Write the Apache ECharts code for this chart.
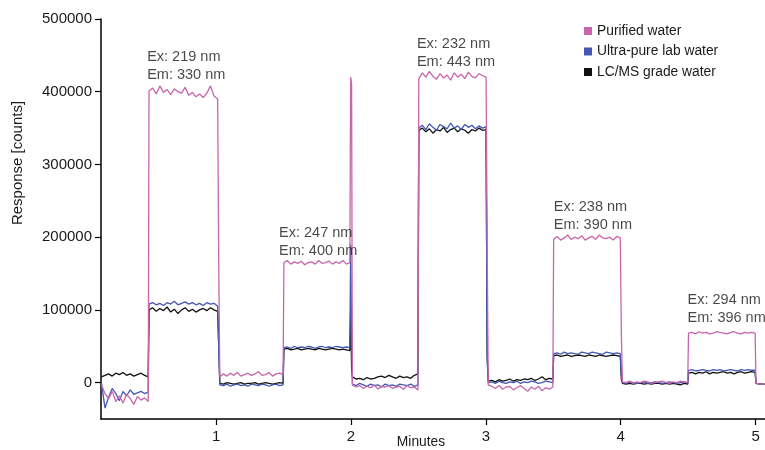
<!DOCTYPE html>
<html>
<head>
<meta charset="utf-8">
<script src="https://cdn.jsdelivr.net/npm/echarts@6/dist/echarts.min.js"></script>
<style>
  html, body { margin: 0; padding: 0; background: #fff; }
  #chart { width: 765px; height: 450px; }
</style>
</head>
<body>
<div id="chart"></div>
<script>
// time segments [start, end, points] (minutes)
var segments = [
    [0.147, 0.50, 14], [0.50, 1.015, 20], [1.015, 1.025, 1], [1.025, 1.50, 19],
    [1.50, 1.995, 20], [1.995, 2.008, 2], [2.008, 2.50, 19], [2.50, 3.005, 20],
    [3.005, 3.015, 1], [3.015, 3.50, 19], [3.50, 4.00, 20], [4.00, 4.01, 1],
    [4.01, 4.50, 19], [4.50, 5.00, 20], [5.00, 5.07, 3]
];

// responses in thousands of counts
var purifiedK = [
    -3, -15, -22, -12, -26, -18, -28, -16, -22, -30, -19, -24, -21, -26,
    401, 405, 397, 408, 399, 403, 396, 404, 400, 398, 406, 395, 399, 393, 397, 392, 398, 408, 394, 390,
    160,
    8, 12, 9, 13, 10, 14, 9, 11, 13, 10, 12, 15, 10, 11, 14, 9, 12, 13, 11,
    165, 168, 163, 166, 164, 167, 162, 165, 166, 163, 168, 164, 165, 167, 163, 166, 164, 168, 163, 165,
    420, 410,
    -3, -6, -4, -8, -5, -7, -3, -9, -5, -6, -4, -8, -6, -5, -9, -4, -7, -6, -10,
    418, 426, 420, 428, 421, 417, 425, 419, 423, 416, 426, 420, 424, 418, 427, 421, 419, 425, 422, 420,
    195,
    -3, -5, -8, -4, -9, -6, -5, -10, -7, -4, -8, -12, -6, -9, -5, -11, -7, -9, -6,
    197, 201, 196, 199, 203, 197, 200, 198, 202, 196, 199, 201, 197, 203, 199, 198, 200, 196, 201, 199,
    67,
    1, 0, 2, -1, 1, 0, 2, 1, -1, 0, 1, 2, 0, -1, 1, 0, 2, 1, 0,
    68, 69, 67, 70, 68, 69, 67, 68, 70, 69, 68, 67, 69, 70, 68, 67, 69, 68, 69, 68,
    -1, -2, -2
];
var ultraPureK = [
    0, -35, -20, -8, -15, -25, -12, -18, -10, -16, -14, -12, -15, -13,
    108, 110, 107, 109, 106, 110, 108, 112, 107, 109, 111, 108, 110, 107, 109, 106, 110, 108, 109, 105,
    45,
    -3, -4, -2, -5, -3, -2, -4, -3, -5, -2, -3, -4, -2, -3, -5, -3, -2, -4, -3,
    48, 49, 47, 50, 48, 49, 48, 50, 49, 47, 49, 50, 48, 49, 48, 50, 49, 48, 49, 48,
    190, 60,
    -2, -4, -1, -3, -5, -2, -4, -3, -6, -2, -4, -3, -5, -2, -3, -4, -2, -5, -3,
    350, 354, 348, 356, 351, 347, 355, 352, 349, 357, 350, 353, 348, 355, 351, 354, 349, 353, 350, 352,
    30,
    0, 1, -1, 2, 0, -1, 1, 0, 2, -1, 1, 0, 2, 1, -1, 0, 2, 1, 0,
    40, 41, 39, 42, 40, 41, 40, 39, 42, 41, 40, 42, 41, 40, 39, 42, 41, 40, 41, 40,
    10,
    0, -1, 1, 0, -1, 0, 1, -1, 0, 1, 0, -1, 0, 1, 0, -1, 0, 1, 0,
    17, 18, 16, 17, 18, 17, 16, 18, 17, 18, 16, 17, 18, 17, 16, 18, 17, 18, 17, 17,
    -1, -2, -2
];
var lcmsK = [
    8, 10, 12, 9, 13, 11, 14, 10, 12, 9, 11, 13, 10, 8,
    100, 103, 98, 102, 99, 104, 97, 101, 95, 100, 103, 98, 101, 97, 100, 102, 99, 103, 100, 98,
    50,
    -1, -2, 0, -1, -2, -1, 0, -2, -1, -1, 0, -2, -1, 0, -1, -2, -1, 0, -1,
    46, 47, 45, 46, 47, 45, 46, 47, 46, 45, 47, 46, 45, 46, 47, 46, 45, 46, 45, 44,
    100, 20,
    8, 5, 6, 4, 7, 5, 6, 8, 9, 7, 10, 8, 6, 9, 7, 8, 6, 10, 12,
    347, 350, 345, 349, 343, 348, 346, 351, 344, 348, 350, 345, 349, 347, 343, 348, 346, 350, 347, 348,
    40,
    2, 3, 1, 4, 2, 3, 5, 2, 4, 3, 5, 4, 6, 3, 5, 8, 4, 6, 5,
    37, 38, 36, 37, 38, 36, 37, 38, 37, 36, 38, 37, 36, 38, 37, 36, 37, 38, 37, 36,
    5,
    -1, -2, -1, -2, -1, -1, -2, -1, -2, -1, -1, -2, -1, -2, -1, -2, -3, -1, -2,
    13, 14, 12, 14, 13, 15, 12, 14, 13, 14, 15, 13, 14, 12, 14, 15, 13, 14, 15, 14,
    -1, -2, -2
];

var seriesNames = ["Purified water", "Ultra-pure lab water", "LC/MS grade water"];
var yTicks = [0, 100000, 200000, 300000, 400000, 500000];
var xTicks = [1, 2, 3, 4, 5];

// annotation: [minutes, response at text bottom, text]
var annotations = [
    [0.489, 410000, "Ex: 219 nm\nEm: 330 nm"],
    [1.467, 168000, "Ex: 247 nm\nEm: 400 nm"],
    [2.489, 428000, "Ex: 232 nm\nEm: 443 nm"],
    [3.504, 205000, "Ex: 238 nm\nEm: 390 nm"],
    [4.496, 77000, "Ex: 294 nm\nEm: 396 nm"]
];

function buildSeries(valsK) {
    var out = [], k = 0;
    segments.forEach(function (s) {
        var a = s[0], b = s[1], n = s[2];
        for (var i = 0; i < n; i++) {
            var t = n === 1 ? (a + b) / 2 : a + 0.003 + (b - a - 0.006) * i / (n - 1);
            out.push([t, valsK[k++] * 1000]);
        }
    });
    return out;
}

var font = "'Liberation Sans', Arial, sans-serif";
var textColor = "#1a1a1a";
var colors = ["#c965ac", "#4656b4", "#111111"];

function lineSeries(idx, vals, z) {
    return {
        name: seriesNames[idx],
        type: "line",
        data: buildSeries(vals),
        showSymbol: false,
        symbol: "none",
        z: z,
        lineStyle: { width: 1.3, color: colors[idx] },
        itemStyle: { color: colors[idx] }
    };
}

var myChart = echarts.init(document.getElementById("chart"));
var option = {
    animation: false,
    textStyle: { fontFamily: font },
    grid: { left: 101, right: 0, top: 19, bottom: 31, outerBoundsMode: "none", containLabel: false },
    legend: {
        data: seriesNames,
        orient: "vertical",
        left: 579,
        top: 19,
        icon: "rect",
        itemWidth: 8,
        itemHeight: 8,
        itemGap: 6.5,
        textStyle: { fontFamily: font, fontSize: 13.8, color: textColor }
    },
    xAxis: {
        type: "value",
        min: 0.147,
        max: 5.07,
        name: "Minutes",
        nameLocation: "middle",
        nameGap: 16,
        nameMoveOverlap: false,
        nameTextStyle: { fontFamily: font, fontSize: 13.8, color: textColor, padding: [0, 24, 0, 0] },
        splitLine: { show: false },
        axisLine: { show: true, onZero: false, lineStyle: { color: "#000", width: 1.5 } },
        axisTick: { show: true, length: 6, customValues: xTicks, lineStyle: { color: "#000", width: 1.2 } },
        axisLabel: { customValues: xTicks, fontFamily: font, fontSize: 15, color: textColor, margin: 10 }
    },
    yAxis: {
        type: "value",
        min: -50000,
        max: 500000,
        splitLine: { show: false },
        axisLine: { show: true, onZero: false, lineStyle: { color: "#000", width: 1.5 } },
        axisTick: { show: true, length: 6, customValues: yTicks, lineStyle: { color: "#000", width: 1.2 } },
        axisLabel: {
            customValues: yTicks, fontFamily: font, fontSize: 15, color: textColor, margin: 9,
            formatter: function (v) { return String(v); }
        }
    },
    graphic: [{
        type: "text",
        x: 10,
        y: 163,
        rotation: Math.PI / 2,
        style: {
            text: "Response [counts]",
            font: "15px " + font,
            fill: textColor,
            align: "center",
            verticalAlign: "top"
        }
    }],
    series: [
        lineSeries(2, lcmsK, 2),
        lineSeries(1, ultraPureK, 3),
        lineSeries(0, purifiedK, 4),
        {
            name: "annotations",
            type: "scatter",
            symbolSize: 0,
            silent: true,
            z: 10,
            data: annotations.map(function (a) { return { value: [a[0], a[1]], text: a[2] }; }),
            label: {
                show: true,
                position: [0, 0],
                align: "left",
                verticalAlign: "bottom",
                fontFamily: font,
                fontSize: 14.5,
                lineHeight: 18,
                color: textColor,
                formatter: function (p) { return p.data.text; }
            }
        }
    ]
};
myChart.setOption(option);
</script>
</body>
</html>
